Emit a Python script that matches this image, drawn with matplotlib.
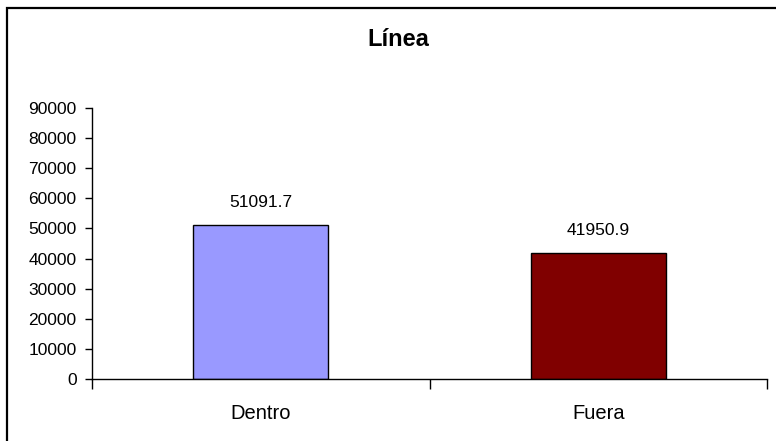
import matplotlib
matplotlib.use('Agg')
from matplotlib import pyplot as plt
from matplotlib.patches import Rectangle
import numpy as np

categories = ['Dentro', 'Fuera']
values = [51091.7, 41950.9]
bar_colors = ['#9999FF', '#800000']
y_ticks = list(range(0, 90001, 10000))

plt.rcParams['font.family'] = ['Liberation Sans', 'DejaVu Sans']

fig = plt.figure(figsize=(7.76, 4.41), dpi=100)
ax = fig.add_axes([92/776, 62/441, 675/776, 271/441])

x = np.arange(len(categories))
bars = ax.bar(x, values, width=0.4, color=bar_colors, edgecolor='black', linewidth=1.0)

for b, v in zip(bars, values):
    ax.annotate('{:.1f}'.format(v), (b.get_x() + b.get_width()/2, v),
                xytext=(0, 16), textcoords='offset points',
                ha='center', va='center', fontsize=12.5)

ax.set_xlim(-0.5, 1.5)
ax.set_ylim(0, 90000)
ax.set_yticks(y_ticks)
ax.set_yticklabels([str(t) for t in y_ticks])
ax.set_xticks(x)
ax.set_xticklabels(categories)
ax.set_xticks([-0.5, 0.5, 1.5], minor=True)

ax.tick_params(axis='y', direction='out', length=5, width=1, pad=6, labelsize=12.5)
ax.tick_params(axis='x', which='major', length=0, pad=18, labelsize=14.5)
ax.tick_params(axis='x', which='minor', direction='out', length=7, width=1)

for s in ['top', 'right']:
    ax.spines[s].set_visible(False)
for s in ['left', 'bottom']:
    ax.spines[s].set_linewidth(1)

fig.text(398/776, 1 - 40/441, 'Línea', ha='center', va='center',
         fontsize=17, fontweight='bold')

# chart border, runs off the right and bottom edges
fig.patches.append(Rectangle((7/776, -0.05), 1.0, 1 - 8/441 + 0.05,
                             transform=fig.transFigure, fill=False,
                             edgecolor='black', linewidth=1.6))

fig.savefig('out.png', dpi=100)
